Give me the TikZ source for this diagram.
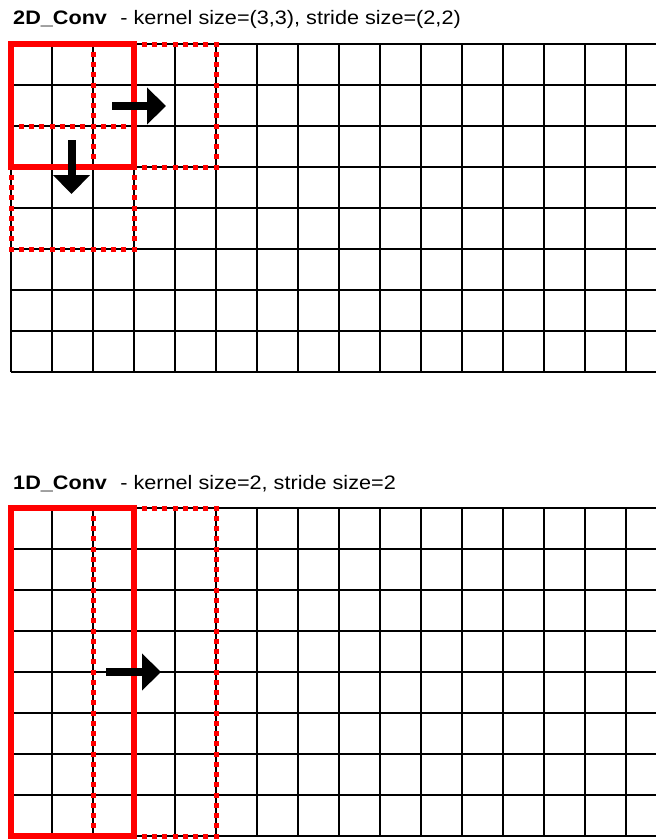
\documentclass[tikz,border=0pt]{standalone}
\usepackage{fontspec}
\setmainfont{Liberation Sans}
\usetikzlibrary{arrows.meta}
\tikzset{
  gridline/.style={black, line width=1.3pt},
  kernelbox/.style={red, line width=6pt},
  stridebox/.style={red, line width=5pt, dash pattern=on 5pt off 5.25pt, dash phase=2.5pt},
  movearrow/.style={black, line width=8pt, -{Triangle[length=19pt,width=36pt]}},
  title/.style={anchor=base west, inner sep=0pt, xscale=1.11, font=\fontsize{19.5}{22}\selectfont}
}
\begin{document}
\begin{tikzpicture}[x=1pt,y=-1pt]
\useasboundingbox (0,0) rectangle (656,839);
\clip (0,0) rectangle (656,839);
% titles
\node[title] (t2d) at (13,24) {\textbf{2D\_Conv}\hspace{12pt}- kernel size=(3,3), stride size=(2,2)};
\node[title] (t1d) at (13,489) {\textbf{1D\_Conv}\hspace{12pt}- kernel size=2, stride size=2};
% grids
\foreach \oy in {44,508} {
  \foreach \i in {0,...,8} \draw[gridline] (11,\oy+41*\i) -- (660,\oy+41*\i);
  \foreach \j in {0,...,15} \draw[gridline] (11+41*\j,\oy) -- (11+41*\j,\oy+328);
}
% 2D conv boxes
\draw[stridebox] (93,44) rectangle (216,167);
\draw[stridebox] (11,126) rectangle (134,249);
\draw[kernelbox] (11,44) rectangle (134,167);
\coordinate (r1s) at (112,106); \coordinate (r1e) at (166,106);
\coordinate (d1s) at (71.5,140); \coordinate (d1e) at (71.5,194);
\draw[movearrow] (r1s) -- (r1e);
\draw[movearrow] (d1s) -- (d1e);
% 1D conv boxes
\draw[stridebox] (93,508) rectangle (216,836);
\draw[kernelbox] (11,508) rectangle (134,836);
\coordinate (r2s) at (106,672); \coordinate (r2e) at (161,672);
\draw[movearrow] (r2s) -- (r2e);
\end{tikzpicture}
\end{document}
